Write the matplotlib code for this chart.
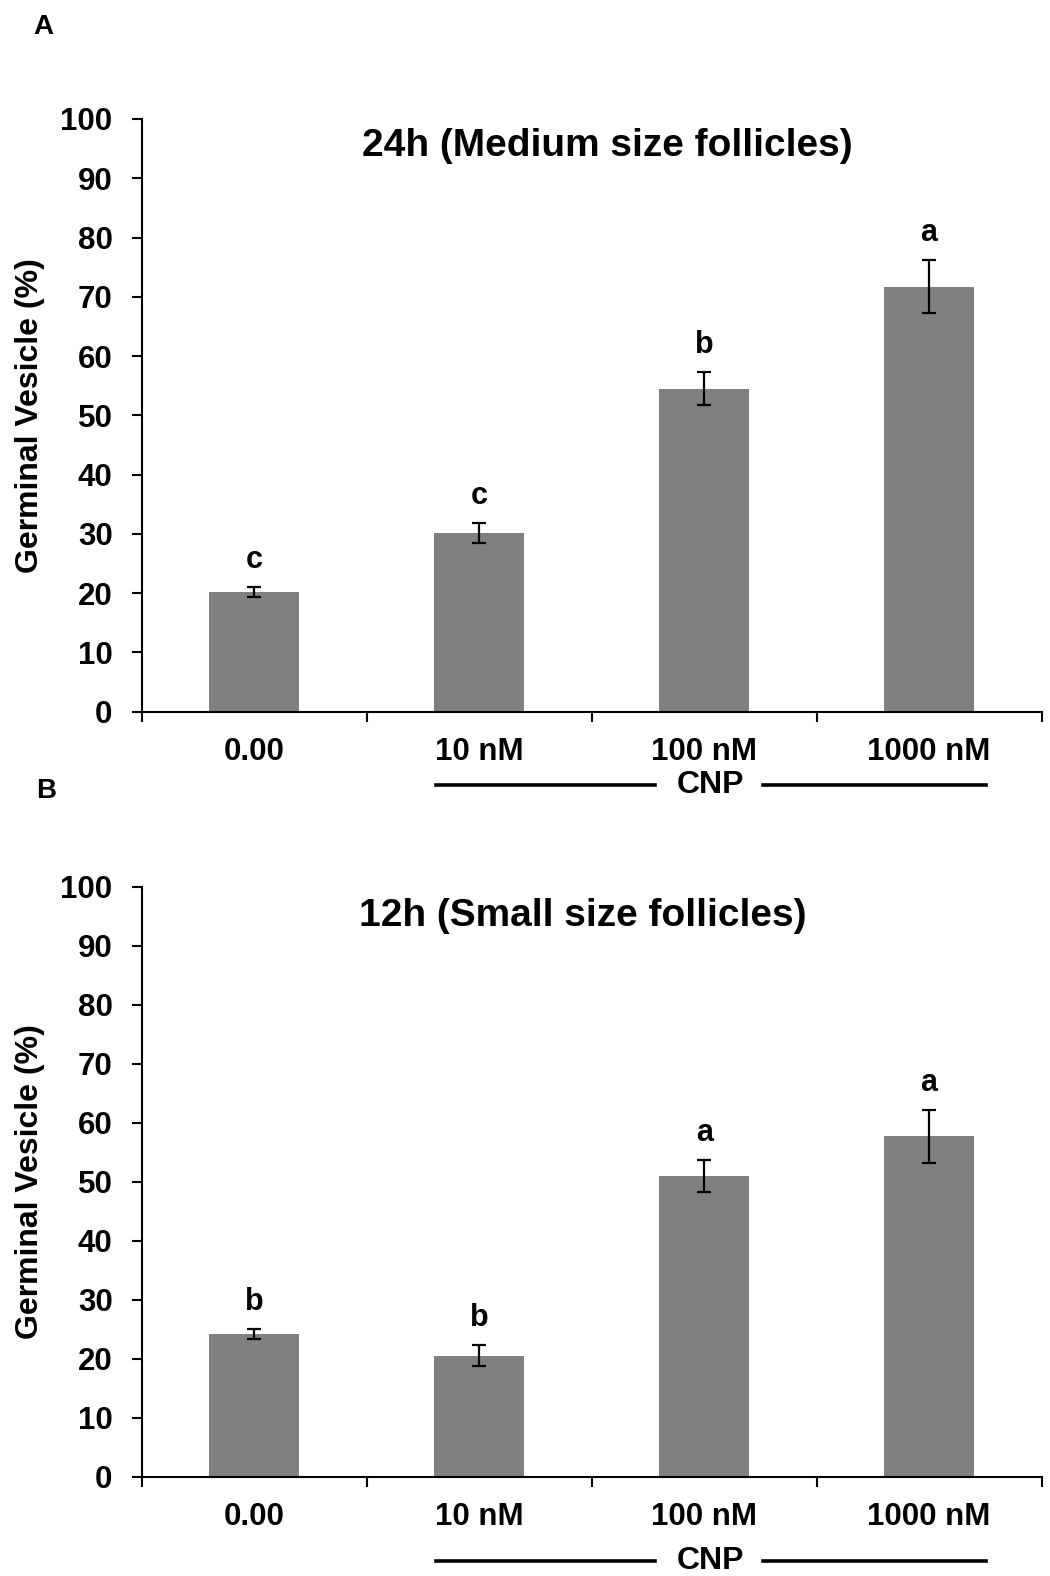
import numpy as np
import matplotlib
matplotlib.use("Agg")
import matplotlib.pyplot as plt
from matplotlib.ticker import FixedLocator, NullFormatter

plt.rcParams['font.family'] = ['Liberation Sans', 'DejaVu Sans']
plt.rcParams['font.weight'] = 'bold'

doses = ['0.00', '10 nM', '100 nM', '1000 nM']

# panel A: 24h, medium size follicles
gv_24h = [20.2, 30.1, 54.5, 71.7]
err_24h = [0.9, 1.7, 2.8, 4.5]
let_24h = ['c', 'c', 'b', 'a']

# panel B: 12h, small size follicles
gv_12h = [24.2, 20.5, 51.0, 57.7]
err_12h = [0.9, 1.8, 2.7, 4.5]
let_12h = ['b', 'b', 'a', 'a']

fig = plt.figure(figsize=[10.5, 15.76], dpi=100)
axA = fig.add_axes([0.135, 0.5484, 0.857, 0.3761])
axB = fig.add_axes([0.135, 0.0630, 0.857, 0.3744])


def draw_panel(ax, vals, errs, letters, title, title_xy, cnp_y):
    x = np.arange(len(doses))
    ax.bar(x, vals, width=0.40, color='#808080', edgecolor='none', zorder=2)
    ax.errorbar(x, vals, yerr=errs, fmt='none', ecolor='black',
                elinewidth=1.6, capsize=5, capthick=1.6, zorder=3)
    for xi, v, e, l in zip(x, vals, errs, letters):
        ax.annotate(l, (xi, v + e), xytext=(0, 13.5), textcoords='offset points',
                    ha='center', va='baseline', fontsize=22, fontweight='bold')
    ax.set_xlim(-0.5, 3.5)
    ax.set_ylim(0, 100)
    ax.set_yticks(range(0, 101, 10))
    ax.tick_params(axis='y', direction='out', length=7, width=1.5, pad=14, labelsize=22.5)
    # ticks between categories, labels centred under bars
    ax.xaxis.set_major_locator(FixedLocator([-0.5, 0.5, 1.5, 2.5, 3.5]))
    ax.xaxis.set_major_formatter(NullFormatter())
    ax.xaxis.set_minor_locator(FixedLocator(x))
    ax.set_xticklabels(doses, minor=True)
    ax.tick_params(axis='x', which='major', direction='out', length=7, width=1.5)
    ax.tick_params(axis='x', which='minor', length=0, pad=18, labelsize=22.5)
    for s in ['top', 'right']:
        ax.spines[s].set_visible(False)
    for s in ['left', 'bottom']:
        ax.spines[s].set_linewidth(1.5)
    ax.set_ylabel('Germinal Vesicle (%)', fontsize=23, fontweight='bold')
    ax.yaxis.set_label_coords(-0.107, 0.5)
    ax.text(title_xy[0], title_xy[1], title, transform=ax.transAxes,
            ha='center', va='center', fontsize=28, fontweight='bold')
    # CNP bracket under the three doses
    trans = ax.get_xaxis_transform()
    ax.plot([0.808, 1.78], [cnp_y, cnp_y], color='black', lw=2.6,
            transform=trans, clip_on=False)
    ax.plot([2.26, 3.252], [cnp_y, cnp_y], color='black', lw=2.6,
            transform=trans, clip_on=False)
    ax.text(2.03, cnp_y, 'CNP', transform=trans, ha='center', va='center',
            fontsize=23, fontweight='bold')


draw_panel(axA, gv_24h, err_24h, let_24h, '24h (Medium size follicles)', (0.517, 0.954), -0.124)
draw_panel(axB, gv_12h, err_12h, let_12h, '12h (Small size follicles)', (0.49, 0.95), -0.143)

fig.text(43 / 1050, 1 - 27 / 1576, 'A', ha='center', va='center', fontsize=20, fontweight='bold')
fig.text(46 / 1050, 1 - 791 / 1576, 'B', ha='center', va='center', fontsize=20, fontweight='bold')

plt.savefig('out.png', dpi=100)
